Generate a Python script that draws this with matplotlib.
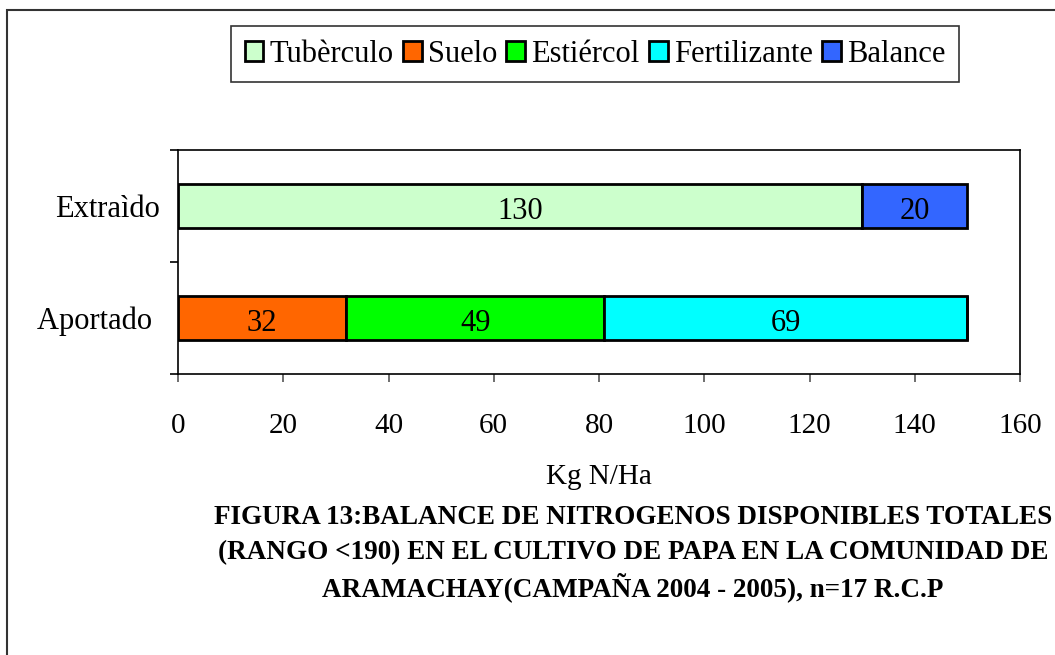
import matplotlib
matplotlib.use("Agg")
import matplotlib.pyplot as plt
from matplotlib.patches import Rectangle, Patch

# Data
categories = ["Aportado ", "Extraìdo"]
series_names = ["Tubèrculo", "Suelo", "Estiércol", "Fertilizante", "Balance"]
# values per series: [Aportado, Extraìdo]
tuberculo = [0, 130]
suelo = [32, 0]
estiercol = [49, 0]
fertilizante = [69, 0]
balance = [0, 20]
colors = ["#CCFFCC", "#FF6600", "#00FF00", "#00FFFF", "#3366FF"]
x_ticks = [0, 20, 40, 60, 80, 100, 120, 140, 160]
title_lines = ["FIGURA 13:BALANCE DE NITROGENOS DISPONIBLES TOTALES",
               "(RANGO <190) EN EL CULTIVO DE PAPA EN LA COMUNIDAD DE",
               "ARAMACHAY(CAMPAÑA 2004 - 2005), n=17 R.C.P"]

plt.rcParams["font.family"] = ["Liberation Serif", "DejaVu Serif"]

W, H = 1055, 655
fig = plt.figure(figsize=(W / 100, H / 100), dpi=100)

# outer frame (only left and top edges fall inside the picture)
fig.add_artist(Rectangle((7 / W, -0.2), 1.5, 1.2 - 10 / H, transform=fig.transFigure,
                         fill=False, edgecolor="#333333", linewidth=1.5))

ax = fig.add_axes([178 / W, 1 - 374 / H, (1020 - 178) / W, (374 - 150) / H])

series = [tuberculo, suelo, estiercol, fertilizante, balance]
y = list(range(len(categories)))
left = [0] * len(categories)
for name, vals, col in zip(series_names, series, colors):
    bars = ax.barh(y, vals, left=left, height=0.4, color=col, edgecolor="black",
                   linewidth=2, label=name)
    for b, v, l in zip(bars, vals, left):
        if v > 0:
            ax.text(l + v / 2, b.get_y() + b.get_height() / 2 - 0.12, f"{v}",
                    ha="center", va="baseline", fontsize=22)
    left = [a + b for a, b in zip(left, vals)]

ax.set_xlim(0, 160)
ax.set_ylim(-0.5, 1.5)
ax.set_xticks(x_ticks)
ax.set_xticklabels([str(t) for t in x_ticks], fontsize=21)
ax.tick_params(axis="x", direction="out", length=6, width=1.2, pad=22, color="#555555")
ax.set_yticks(y)
ax.set_yticklabels(categories, fontsize=22)
ax.tick_params(axis="y", which="major", length=0, pad=13)
ax.set_yticks([-0.5, 0.5, 1.5], minor=True)
ax.tick_params(axis="y", which="minor", direction="out", length=6, width=1.2)
for s in ax.spines.values():
    s.set_linewidth(1.2)
ax.set_xlabel("Kg N/Ha", fontsize=21, labelpad=18)

handles = [Patch(facecolor=c, edgecolor="black", linewidth=2) for c in colors]
leg = fig.legend(handles, series_names, loc="center", bbox_to_anchor=(595 / W, 1 - 54 / H),
                 ncol=5, fontsize=22, frameon=True, fancybox=False, handlelength=0.62,
                 handleheight=0.62, handletextpad=0.2, columnspacing=0.3, borderpad=0.45)
leg.get_frame().set_edgecolor("black")
leg.get_frame().set_linewidth(1.2)

for i, line in enumerate(title_lines):
    fig.text(633 / W, 1 - (518 + 34.5 * i) / H, line, ha="center", va="center",
             fontsize=19.5, fontweight="bold")

fig.savefig("out.png", dpi=100)
